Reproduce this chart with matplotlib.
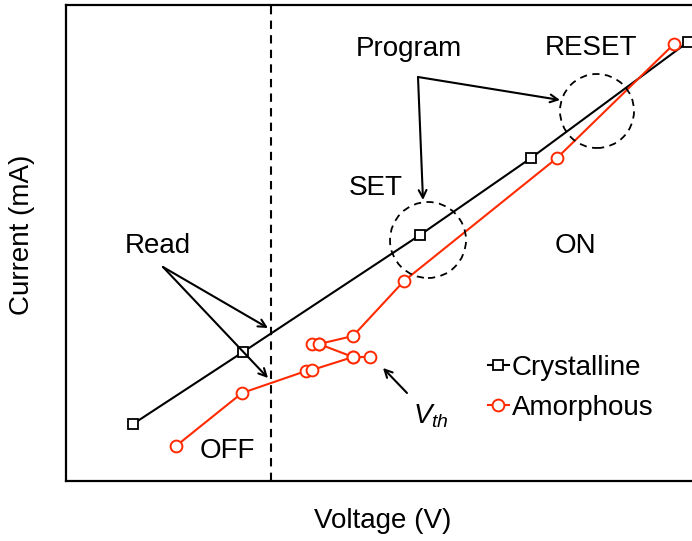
import matplotlib
matplotlib.use("Agg")
import matplotlib.pyplot as plt
from matplotlib.patches import Circle

plt.rcParams['font.family'] = ['Liberation Sans', 'DejaVu Sans']
plt.rcParams['mathtext.fontset'] = 'custom'
plt.rcParams['mathtext.it'] = 'Liberation Sans:italic'
plt.rcParams['mathtext.rm'] = 'Liberation Sans'

# Data (arbitrary units)
cryst_v = [133, 243, 420, 531, 688]
cryst_i = [117, 189, 306, 383, 499]
amor_v = [176, 242, 306, 312, 353, 370, 353, 319, 312, 319, 353, 404, 557, 674]
amor_i = [95, 148, 170, 171, 184, 184, 184, 197, 197, 197, 205, 260, 383, 497]
read_v = 271

RED = '#ff2a00'

fig = plt.figure(figsize=(6.92, 5.41), dpi=100)
W, H = 692, 541
ax = fig.add_axes([66 / W, 60 / H, (720 - 66) / W, (481 - 5) / H])
ax.set_xlim(66, 720)
ax.set_ylim(60, 536)
ax.set_xticks([])
ax.set_yticks([])
for s in ax.spines.values():
    s.set_linewidth(1.6)

ax.plot(cryst_v, cryst_i, color='black', lw=1.5, marker='s', ms=6.5,
        mfc='white', mec='black', mew=1.3, label='Crystalline', zorder=3, clip_on=False)
ax.plot(amor_v, amor_i, color=RED, lw=1.5, marker='o', ms=8.5,
        mfc='white', mec=RED, mew=1.4, label='Amorphous', zorder=3)

ax.axvline(read_v, color='black', lw=1.5, ls=(0, (4, 3)))

ax.add_patch(Circle((428, 301), 38, fill=False, ls=(0, (4, 3)), lw=1.3, color='black', zorder=4))
ax.add_patch(Circle((597, 430), 37, fill=False, ls=(0, (4, 3)), lw=1.3, color='black', zorder=4))

fs = 20
ax.text(158, 295, 'Read', fontsize=fs, ha='center', va='center')
ax.text(409, 492, 'Program', fontsize=fs, ha='center', va='center')
ax.text(376, 353, 'SET', fontsize=fs, ha='center', va='center')
ax.text(591, 493, 'RESET', fontsize=fs, ha='center', va='center')
ax.text(575, 295, 'ON', fontsize=fs, ha='center', va='center')
ax.text(227, 90, 'OFF', fontsize=fs, ha='center', va='center')
ax.text(413, 118, r'$V_{th}$', fontsize=fs, ha='left', va='baseline')

aprops = dict(arrowstyle='->,head_length=0.55,head_width=0.28', color='black', lw=1.5,
              shrinkA=0, shrinkB=0)
ax.annotate('', xy=(268, 213), xytext=(163, 274), arrowprops=aprops)
ax.annotate('', xy=(268, 163), xytext=(163, 274), arrowprops=aprops)
ax.annotate('', xy=(560, 441), xytext=(418, 464), arrowprops=aprops)
ax.annotate('', xy=(423, 341), xytext=(418, 464), arrowprops=aprops)
ax.annotate('', xy=(383, 173), xytext=(407, 148), arrowprops=aprops)

leg = ax.legend(loc='upper left', bbox_to_anchor=(488 / W, (541 - 355) / H),
                bbox_transform=fig.transFigure, frameon=False, fontsize=fs,
                handlelength=0.75, handletextpad=0.1, labelspacing=0.5,
                borderpad=0, borderaxespad=0)

fig.text(383 / W, 1 - 521 / H, 'Voltage (V)', fontsize=20, ha='center', va='center')
fig.text(22 / W, 1 - 235 / H, 'Current (mA)', fontsize=20, ha='center', va='center', rotation=90)

fig.savefig('out.png', dpi=100)
